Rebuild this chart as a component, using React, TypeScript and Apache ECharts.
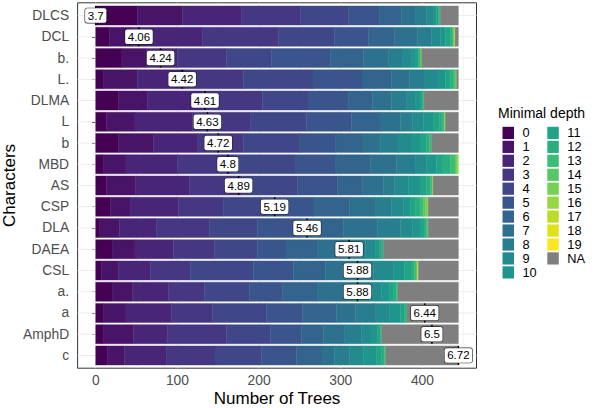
import React, { useEffect, useRef } from "react";
import * as echarts from "echarts";

const FONT = "Liberation Sans, Arial, Helvetica, sans-serif";

// Variables (top to bottom) and their mean minimal depth labels
const variables = ["DLCS", "DCL", "b.", "L.", "DLMA", "L", "b", "MBD", "AS", "CSP", "DLA", "DAEA", "CSL", "a.", "a", "AmphD", "c"];
const meanDepth = [3.7, 4.06, 4.24, 4.42, 4.61, 4.63, 4.72, 4.8, 4.89, 5.19, 5.46, 5.81, 5.88, 5.88, 6.44, 6.5, 6.72];

// Number of trees per minimal depth (index = depth 0..19)
const dDLCS = [51, 55, 72, 73, 58, 38, 27, 17, 14, 8, 4, 3, 1, 1];
const dDCL = [17, 28, 86, 93, 68, 42, 32, 28, 17, 11, 6, 6, 3, 1, 1, 0, 0, 1];
const dBdot = [32, 30, 38, 60, 55, 72, 41, 30, 17, 12, 5, 3, 2, 1, 0, 0, 1];
const dLdot = [9, 42, 59, 71, 85, 60, 36, 22, 19, 16, 9, 6, 4, 2, 1, 1];
const dDLMA = [28, 35, 67, 74, 57, 48, 30, 23, 18, 11, 6, 3, 1, 1];
const dL = [13, 35, 70, 71, 69, 55, 35, 25, 15, 13, 12, 8, 4, 2, 0, 0, 1];
const dB = [28, 43, 54, 56, 69, 44, 32, 23, 21, 16, 11, 8, 4, 2];
const dMBD = [9, 28, 63, 70, 74, 49, 43, 32, 23, 14, 12, 8, 9, 6, 2, 1, 1];
const dAS = [13, 36, 66, 65, 67, 49, 31, 25, 14, 17, 14, 8, 5, 2, 0, 0, 1];
const dCSP = [18, 24, 59, 55, 56, 54, 45, 31, 20, 15, 8, 6, 6, 4, 3, 2, 1];
const dDLA = [5, 24, 45, 65, 59, 52, 53, 42, 28, 15, 9, 5, 3, 1, 1];
const dDAEA = [20, 28, 47, 50, 53, 35, 39, 33, 25, 12, 5, 3, 2];
const dCSL = [7, 21, 39, 49, 77, 49, 39, 29, 30, 25, 13, 8, 4, 3, 1, 0, 0, 0, 1];
const dAdot = [20, 25, 44, 44, 55, 41, 42, 34, 30, 15, 10, 5, 3, 2];
const dA = [9, 28, 56, 50, 66, 44, 42, 23, 24, 18, 13, 5, 2, 1];
const dAmphD = [9, 37, 42, 72, 54, 38, 27, 26, 20, 12, 8, 3, 1, 1];
const dC = [14, 21, 52, 59, 57, 43, 31, 15, 19, 17, 16, 6, 3, 1, 1];

// Trees in which the variable was not used (NA)
const naCounts = [22, 4, 45, 2, 42, 16, 33, 0, 31, 37, 37, 92, 49, 74, 63, 94, 89];

const depthColors = [
  "#440154", "#481467", "#482576", "#453781", "#3F4788", "#39558C", "#32648E",
  "#2D718E", "#287D8E", "#238A8D", "#1F968B", "#20A386", "#29AF7F", "#3CBC75",
  "#56C667", "#75D054", "#95D840", "#BADE28", "#DDE318", "#FDE725",
];
const naColor = "#7F7F7F";

const xTicks = [0, 100, 200, 300, 400];
const xMinorTicks = [50, 150, 250, 350, 450];

const depthRows = [dDLCS, dDCL, dBdot, dLdot, dDLMA, dL, dB, dMBD, dAS, dCSP, dDLA, dDAEA, dCSL, dAdot, dA, dAmphD, dC];

export default function App() {
  const ref = useRef<HTMLDivElement>(null);

  useEffect(() => {
    if (!ref.current) return;
    const chart = echarts.init(ref.current, undefined, { renderer: "svg" });

    const nTrees = depthRows[0].reduce((a, b) => a + b, 0) + naCounts[0];
    const minMean = Math.min(...meanDepth);
    const maxMean = Math.max(...meanDepth);
    const labelX = (m: number) => ((m - minMean) / (maxMean - minMean)) * nTrees;

    const segments = (k: number) =>
      variables.map((_, r) => {
        const row = depthRows[r];
        let start = 0;
        for (let j = 0; j < Math.min(k, 20); j++) start += row[j] || 0;
        const c = k < 20 ? row[k] || 0 : naCounts[r];
        return [start, start + c, r];
      });

    const barItem = (color: string) => (params: any, api: any) => {
      const x0 = api.value(0);
      const x1 = api.value(1);
      const r = api.value(2);
      if (!(x1 > x0)) return null;
      const a = api.coord([x0, r - 0.45]);
      const b = api.coord([x1, r + 0.45]);
      return {
        type: "rect",
        shape: {
          x: Math.min(a[0], b[0]),
          y: Math.min(a[1], b[1]),
          width: Math.abs(b[0] - a[0]),
          height: Math.abs(b[1] - a[1]),
        },
        style: { fill: color, stroke: color, lineWidth: 0.4 },
      };
    };

    const names = depthColors.map((_, i) => String(i)).concat(["NA"]);
    const colors = depthColors.concat([naColor]);

    const barSeries = names.map((name, k) => ({
      type: "custom",
      name,
      z: 3,
      clip: true,
      itemStyle: { color: colors[k] },
      encode: { x: [0, 1], y: 2 },
      data: segments(k),
      renderItem: barItem(colors[k]),
    }));

    const gridV = {
      type: "custom",
      name: "gridV",
      silent: true,
      z: 1,
      encode: { x: 0, y: 1 },
      data: xTicks.map((v) => [v, 0, 1]).concat(xMinorTicks.map((v) => [v, 0, 0])),
      renderItem: (params: any, api: any) => {
        const x = api.coord([api.value(0), 0])[0];
        const cs = params.coordSys;
        return {
          type: "line",
          shape: { x1: x, y1: cs.y, x2: x, y2: cs.y + cs.height },
          style: { stroke: "#EBEBEB", lineWidth: api.value(2) ? 1 : 0.5 },
        };
      },
    };

    const gridH = {
      type: "custom",
      name: "gridH",
      silent: true,
      z: 1,
      encode: { x: 0, y: 1 },
      data: variables.map((_, i) => [0, i]),
      renderItem: (params: any, api: any) => {
        const y = api.coord([0, api.value(1)])[1];
        const cs = params.coordSys;
        return {
          type: "line",
          shape: { x1: cs.x, y1: y, x2: cs.x + cs.width, y2: y },
          style: { stroke: "#EBEBEB", lineWidth: 1 },
        };
      },
    };

    const meanSeries = {
      type: "custom",
      name: "mean",
      z: 6,
      clip: false,
      silent: true,
      encode: { x: 0, y: 1 },
      data: meanDepth.map((m, i) => [labelX(m), i, m]),
      renderItem: (params: any, api: any) => {
        const x = api.value(0);
        const r = api.value(1);
        const m = api.value(2);
        const top = api.coord([x, r - 0.45]);
        const bot = api.coord([x, r + 0.45]);
        const c = api.coord([x, r]);
        return {
          type: "group",
          children: [
            {
              type: "line",
              shape: { x1: top[0], y1: top[1], x2: bot[0], y2: bot[1] },
              style: { stroke: "#000", lineWidth: 1.5 },
            },
            {
              type: "text",
              x: c[0],
              y: c[1],
              style: {
                text: String(m),
                fill: "#000",
                fontSize: 11.5,
                fontFamily: FONT,
                align: "center",
                verticalAlign: "middle",
                backgroundColor: "#fff",
                borderColor: "#222",
                borderWidth: 0.6,
                borderRadius: 2,
                padding: [1.5, 2.6, 1, 2.6],
              },
            },
          ],
        };
      },
    };

    const legendCommon = {
      orient: "vertical",
      icon: "rect",
      itemWidth: 11.5,
      itemHeight: 12.2,
      itemGap: 0.95,
      padding: 0,
      selectedMode: false,
      textStyle: { fontSize: 12.8, color: "#000", fontFamily: FONT, lineHeight: 12.2, padding: [0, 0, 0, 3.5] },
    };

    const option: any = {
      animation: false,
      backgroundColor: "#fff",
      textStyle: { fontFamily: FONT },
      title: {
        text: "Minimal depth",
        left: 498,
        top: 105.5,
        padding: 0,
        textStyle: { fontSize: 14, fontWeight: "normal", color: "#000", fontFamily: FONT },
      },
      legend: [
        { ...legendCommon, left: 502.5, top: 126.4, data: names.slice(0, 11) },
        { ...legendCommon, left: 547.3, top: 126.4, data: names.slice(11) },
      ],
      grid: {
        left: 77.6,
        top: 2.8,
        width: 398.9,
        height: 365.4,
        show: true,
        borderColor: "#333",
        borderWidth: 1,
        backgroundColor: "#fff",
        containLabel: false,
        outerBoundsMode: "none",
      },
      xAxis: {
        type: "value",
        min: -0.05 * nTrees,
        max: 1.05 * nTrees,
        name: "Number of Trees",
        nameLocation: "middle",
        nameGap: 21.3,
        nameMoveOverlap: false,
        nameTextStyle: { fontSize: 17, color: "#000", fontFamily: FONT },
        axisLine: { show: false },
        axisTick: { show: true, length: 3.7, customValues: xTicks, lineStyle: { color: "#333", width: 1 } },
        axisLabel: { customValues: xTicks, fontSize: 13.8, color: "#4D4D4D", margin: 5.5, fontFamily: FONT },
        splitLine: { show: false },
      },
      yAxis: {
        type: "value",
        inverse: true,
        min: -0.6,
        max: variables.length - 1 + 0.6,
        name: "Characters",
        nameLocation: "middle",
        nameGap: 60,
        nameMoveOverlap: false,
        nameRotate: 90,
        nameTextStyle: { fontSize: 17, color: "#000", fontFamily: FONT },
        axisLine: { show: false },
        axisTick: { show: true, length: 3.7, customValues: variables.map((_, i) => i), lineStyle: { color: "#333", width: 1 } },
        axisLabel: {
          customValues: variables.map((_, i) => i),
          formatter: (v: number) => variables[Math.round(v)] ?? "",
          fontSize: 13.8,
          color: "#4D4D4D",
          margin: 8.5,
          fontFamily: FONT,
        },
        splitLine: { show: false },
      },
      series: [gridV, gridH, ...barSeries, meanSeries],
    };

    chart.setOption(option);
    return () => chart.dispose();
  }, []);

  return (
    <div
      ref={ref}
      style={{ position: "fixed", left: 0, top: 0, width: 610, height: 408, background: "#fff" }}
    />
  );
}
